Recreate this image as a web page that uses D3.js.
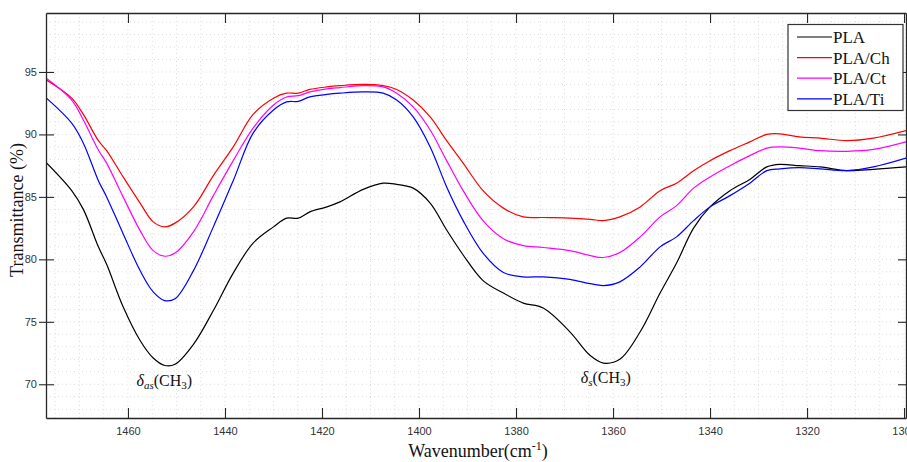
<!DOCTYPE html>
<html>
<head>
<meta charset="utf-8">
<script src="https://cdn.jsdelivr.net/npm/d3@7/dist/d3.min.js"></script>
<style>
html,body{margin:0;padding:0;background:#fff;}
svg{display:block;}
</style>
</head>
<body>
<svg id="chart" width="907" height="462"></svg>
<script>
// ---- data ----
const wavenumbers = [1477,1471.6,1469.2,1466.1,1464.4,1461,1457.5,1454.8,1452.4,1450.3,1446.5,1442.4,1438.3,1434.2,1430,1427.3,1424.9,1422.5,1419,1416.3,1411.5,1407.4,1404.6,1401.2,1397.7,1394.3,1390.9,1386.8,1382.6,1378.5,1374.4,1368.9,1364.7,1362,1358.6,1354.4,1350.3,1346.9,1343.4,1340,1335.9,1331.8,1328.3,1325.6,1321.6,1317.3,1311.8,1306.3,1299.6];
const seriesNames = ["PLA","PLA/Ch","PLA/Ct","PLA/Ti"];
const plaValues = [87.8,85.5,84.0,81.0,79.6,76.2,73.5,72.1,71.5,71.6,73.2,75.9,78.9,81.3,82.6,83.3,83.3,83.8,84.2,84.6,85.6,86.1,86.0,85.7,84.5,82.35,80.35,78.3,77.3,76.5,76.1,74.2,72.3,71.7,72.0,74.2,77.3,79.7,82.5,84.2,85.5,86.4,87.4,87.6,87.5,87.4,87.1,87.2,87.4];
const plaChValues = [94.4,92.9,91.6,89.5,88.7,86.6,84.5,83.0,82.6,82.9,84.2,86.7,89.0,91.6,92.9,93.3,93.3,93.6,93.8,93.9,94.0,93.9,93.6,92.75,91.4,89.5,87.7,85.5,84.1,83.4,83.35,83.3,83.2,83.1,83.4,84.2,85.5,86.1,87.1,87.9,88.7,89.4,90.0,90.05,89.8,89.7,89.5,89.7,90.3];
const plaCtValues = [94.55,92.75,91.15,88.75,87.7,85.0,82.3,80.7,80.25,80.5,82.2,85.1,87.9,90.5,92.35,93.0,93.1,93.4,93.65,93.75,93.9,93.8,93.3,92.2,90.35,87.9,85.5,83.1,81.65,81.1,80.95,80.7,80.3,80.15,80.55,81.8,83.4,84.3,85.7,86.6,87.5,88.3,88.9,89.0,88.9,88.7,88.65,88.8,89.4];
const plaTiValues = [92.97,90.9,89.3,86.3,85.0,82.05,79.1,77.4,76.7,76.85,79.1,82.6,86.3,90.1,91.95,92.6,92.65,93.0,93.2,93.3,93.4,93.3,92.75,91.4,89.0,85.8,83.1,80.5,78.95,78.6,78.6,78.4,78.05,77.9,78.2,79.4,81.0,81.8,83.1,84.2,85.1,86.1,87.1,87.25,87.35,87.25,87.1,87.4,88.1];
const seriesColors = ["#000000","#ff0000","#ff00ff","#0000ff"];
const xTicks = [1460,1440,1420,1400,1380,1360,1340,1320,1300];
const yTicks = [70,75,80,85,90,95];
const annotations = [
  {wn:1452.5, v:71.5, main:"δ", sub:"as", label:"(CH", sub2:"3", end:")"},
  {wn:1361.5, v:71.7, main:"δ", sub:"s", label:"(CH", sub2:"3", end:")"}
];

// ---- layout ----
const L = 46, T = 13, R = 906, B = 418;
const svg = d3.select("#chart");
const x = d3.scaleLinear().domain([1476.9, 1299.6]).range([L, R]);
const y = d3.scaleLinear().domain([67.3, 99.72]).range([B, T]);

// grid
const grid = svg.append("g");
const xMinor = d3.range(1475, 1299, -5);
const yMinor = d3.range(68, 100, 1);
grid.selectAll(".vx").data(xMinor).join("line")
  .attr("x1", d => x(d)).attr("x2", d => x(d)).attr("y1", T).attr("y2", B)
  .attr("stroke", "#d4d4d4").attr("stroke-width", 0.8).attr("stroke-dasharray", "1,3");
grid.selectAll(".hy").data(yMinor).join("line")
  .attr("y1", d => y(d)).attr("y2", d => y(d)).attr("x1", L).attr("x2", R)
  .attr("stroke", "#d4d4d4").attr("stroke-width", 0.8).attr("stroke-dasharray", "1,3");

// lines
svg.append("clipPath").attr("id", "clip").append("rect")
  .attr("x", L).attr("y", T).attr("width", R - L).attr("height", B - T);
const allValues = [plaValues, plaChValues, plaCtValues, plaTiValues];
const line = d3.line().x(d => x(d[0])).y(d => y(d[1])).curve(d3.curveCatmullRom.alpha(0.5));
const lines = svg.append("g").attr("clip-path", "url(#clip)");
allValues.forEach((vals, i) => {
  lines.append("path")
    .datum(wavenumbers.map((w, j) => [w, vals[j]]))
    .attr("d", line)
    .attr("fill", "none")
    .attr("stroke", seriesColors[i])
    .attr("stroke-width", 1.2);
});

// axes
const axisColor = "#262626";
const tickFont = "'Liberation Sans', Arial, sans-serif";
const fmt = d3.format("d");
const xAxisB = d3.axisBottom(x).tickValues(xTicks).tickFormat(fmt).tickSizeInner(-10).tickSizeOuter(0).tickPadding(9);
const gxb = svg.append("g").attr("transform", `translate(0,${B})`).call(xAxisB);
const xAxisT = d3.axisTop(x).tickValues(xTicks).tickSizeInner(-10).tickSizeOuter(0).tickFormat("");
const gxt = svg.append("g").attr("transform", `translate(0,${T})`).call(xAxisT);
const yAxisL = d3.axisLeft(y).tickValues(yTicks).tickFormat(fmt).tickSizeInner(7).tickSizeOuter(0).tickPadding(3);
const gyl = svg.append("g").attr("transform", `translate(${L},0)`).call(yAxisL);
gyl.selectAll(".tick line").attr("x2", 8).attr("x1", -7);
const yAxisR = d3.axisRight(y).tickValues(yTicks).tickSizeInner(-8).tickSizeOuter(0).tickFormat("");
const gyr = svg.append("g").attr("transform", `translate(${R},0)`).call(yAxisR);
[gxb, gxt, gyl, gyr].forEach(g => {
  g.select(".domain").attr("stroke", axisColor).attr("stroke-width", 1.3);
  g.selectAll(".tick line").attr("stroke", axisColor).attr("stroke-width", 1.1);
  g.selectAll(".tick text").attr("fill", "#333").attr("font-family", tickFont).attr("font-size", 11);
});
gyl.selectAll(".tick text").attr("x", -9);

// axis titles
const serif = "'Liberation Serif', 'Times New Roman', serif";
const xt = svg.append("text").attr("x", 478).attr("y", 457).attr("text-anchor", "middle")
  .attr("font-family", serif).attr("font-size", 18).attr("fill", "#111");
xt.append("tspan").text("Wavenumber(cm");
xt.append("tspan").attr("baseline-shift", "super").attr("font-size", 12).text("-1");
xt.append("tspan").text(")");
svg.append("text").attr("transform", "translate(23,210) rotate(-90)").attr("text-anchor", "middle")
  .attr("font-family", serif).attr("font-size", 18).attr("fill", "#111").text("Transmittance (%)");

// annotations
annotations.forEach(a => {
  const t = svg.append("text").attr("x", x(a.wn)).attr("y", y(a.v) + 20).attr("text-anchor", "middle")
    .attr("font-family", serif).attr("font-size", 16).attr("fill", "#111");
  t.append("tspan").attr("font-style", "italic").text(a.main);
  t.append("tspan").attr("font-style", "italic").attr("font-size", 11).attr("dy", 3).text(a.sub);
  t.append("tspan").attr("dy", -3).text(a.label);
  t.append("tspan").attr("font-size", 11).attr("dy", 3).text(a.sub2);
  t.append("tspan").attr("dy", -3).text(a.end);
});

// legend
const lg = svg.append("g");
lg.append("rect").attr("x", 788).attr("y", 24.5).attr("width", 115).attr("height", 86)
  .attr("fill", "#fff").attr("stroke", "#333").attr("stroke-width", 1.2);
seriesNames.forEach((n, i) => {
  const cy = 37 + i * 20.6;
  lg.append("line").attr("x1", 797).attr("x2", 832).attr("y1", cy).attr("y2", cy)
    .attr("stroke", seriesColors[i]).attr("stroke-width", 1.2);
  lg.append("text").attr("x", 833).attr("y", cy + 6).attr("font-family", serif)
    .attr("font-size", 17).attr("fill", "#111").text(n);
});
</script>
</body>
</html>
